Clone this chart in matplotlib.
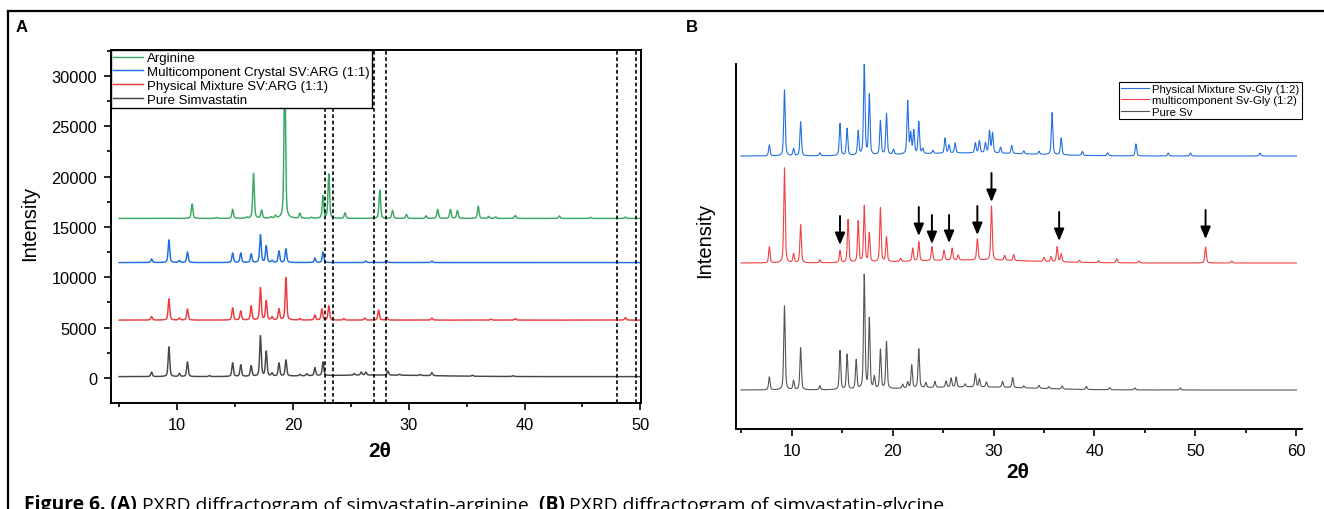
import numpy as np
import matplotlib
matplotlib.use('Agg')
import matplotlib.pyplot as plt
from matplotlib.lines import Line2D
from matplotlib.ticker import MultipleLocator

plt.rcParams['font.family'] = ['Liberation Sans', 'DejaVu Sans']

W, H = 1324, 510

# ---------------- panel A : simvastatin - arginine ----------------
A_LABELS = ['Arginine', 'Multicomponent Crystal SV:ARG (1:1)',
            'Physical Mixture SV:ARG (1:1)', 'Pure Simvastatin']
A_COLORS = ['#3aa860', '#1f6ee0', '#ec3a3d', '#474747']
A_BASELINES = [15840, 11460, 5750, 140]

# peak positions (2theta) and heights above baseline
arg_pos = [11.3, 13.4, 14.8, 16.0, 16.6, 17.3, 18.1, 18.5, 19.3, 20.6, 21.6, 22.6, 23.1,
           24.5, 27.5, 28.6, 29.8, 31.5, 32.5, 33.6, 34.2, 36.0, 36.9, 37.5, 39.2, 43.0,
           45.7, 48.7]
arg_int = [1450, 100, 900, 100, 4450, 800, 150, 250, 15000, 500, 100, 2200, 4400,
           550, 2800, 800, 400, 250, 900, 900, 800, 1200, 200, 150, 300, 250,
           100, 150]

mc_arg_pos = [7.8, 9.3, 10.2, 10.9, 14.8, 15.5, 16.4, 17.2, 17.7, 18.2, 18.8, 19.4,
              21.9, 22.6, 26.3, 27.0, 28.1, 32.0]
mc_arg_int = [350, 2250, 200, 1050, 950, 950, 850, 2750, 1650, 200, 1150, 1350,
              450, 1050, 150, 100, 200, 150]

pm_arg_pos = [7.8, 9.3, 10.2, 10.9, 14.8, 15.5, 16.4, 17.2, 17.7, 18.2, 18.8, 19.4,
              20.6, 21.9, 22.5, 23.1, 24.4, 26.2, 27.4, 28.1, 32.0, 37.1, 39.2, 48.7]
pm_arg_int = [350, 2100, 200, 1100, 1200, 900, 1400, 3200, 1900, 300, 1100, 4200,
              150, 500, 1100, 1400, 150, 200, 1000, 300, 200, 100, 150, 250]

sv_pos = [7.8, 9.3, 10.2, 10.9, 12.8, 14.8, 15.5, 16.4, 17.2, 17.7, 18.2, 18.8, 19.4,
          20.6, 21.2, 21.9, 22.6, 25.3, 25.9, 26.3, 28.2, 29.2, 31.0, 32.0, 35.5, 39.0]
sv_int = [450, 2950, 300, 1450, 100, 1350, 1150, 1050, 4000, 2450, 300, 1300, 1600,
          150, 200, 800, 1350, 150, 300, 300, 400, 100, 100, 300, 100, 80]
# broad amorphous hump under the simvastatin trace: centre, height, width
sv_hump = (27.0, 150, 12.0)

A_REF_LINES = [22.8, 23.45, 27.0, 28.0, 48.0, 49.6]

# ---------------- panel B : simvastatin - glycine (arbitrary units) ----------------
B_LABELS = ['Physical Mixture Sv-Gly (1:2)', 'multicomponent Sv-Gly (1:2)', 'Pure Sv']
B_COLORS = ['#2470e0', '#f04242', '#555555']
B_BASELINES = [234, 127, 0]

pm_gly_pos = [7.8, 9.3, 10.2, 10.9, 12.8, 14.8, 15.5, 16.6, 17.2, 17.7, 18.8, 19.4,
              20.1, 21.5, 21.8, 22.1, 22.6, 23.0, 24.0, 25.2, 25.6, 26.2, 28.2, 28.6,
              29.2, 29.6, 29.9, 30.7, 31.8, 33.0, 34.5, 35.8, 36.7, 38.8, 41.3, 44.1,
              47.3, 49.5, 56.4]
pm_gly_int = [11, 66, 7, 34, 3, 32, 27, 24, 91, 60, 34, 41,
              5, 53, 20, 23, 32, 5, 3, 15, 8, 10, 10, 12,
              10, 22, 20, 6, 8, 3, 3, 42, 17, 4, 3, 12,
              3, 3, 3]

mc_gly_pos = [7.8, 9.3, 10.2, 10.9, 12.8, 14.8, 15.6, 16.6, 17.2, 17.7, 18.8, 19.4,
              20.8, 22.0, 22.6, 23.9, 25.1, 25.9, 26.5, 28.4, 29.8, 31.1, 32.0, 35.0,
              35.7, 36.3, 36.7, 38.5, 40.4, 42.2, 44.4, 51.0, 53.6]
mc_gly_int = [16, 95, 9, 38, 3, 12, 43, 41, 56, 29, 54, 25,
              3, 13, 19, 14, 10, 12, 5, 21, 54, 5, 6, 4,
              5, 15, 8, 2, 2, 4, 2, 16, 2]

sv_b_pos = [7.8, 9.3, 10.2, 10.9, 12.8, 14.8, 15.5, 16.4, 17.2, 17.7, 18.2, 18.8, 19.4,
            21.0, 21.5, 21.9, 22.6, 23.3, 24.2, 25.3, 25.8, 26.3, 27.2, 28.2, 28.6,
            29.3, 30.9, 31.9, 33.0, 34.5, 35.5, 36.8, 39.2, 41.5, 44.0, 48.5]
sv_b_int = [13, 84, 9, 42, 4, 39, 35, 29, 114, 70, 12, 39, 47,
            4, 6, 23, 39, 5, 6, 6, 9, 10, 3, 13, 8,
            5, 6, 10, 2, 3, 2, 3, 3, 2, 2, 2]
b_hump = (28.0, 3, 14.0)

# arrows above the multicomponent trace: 2theta, tail and head heights
ARROW_POS = [14.8, 22.6, 23.9, 25.6, 28.4, 29.8, 36.5, 51.0]
ARROW_TAIL = [174, 183, 175, 175, 184, 217, 178, 180]
ARROW_HEAD = [145, 154, 146, 147, 155, 188, 149, 151]

CAPTION = [('Figure 6. (A)', 'bold'), (' PXRD diffractogram of simvastatin-arginine.', 'normal'),
           (' (B)', 'bold'), (' PXRD diffractogram of simvastatin-glycine.', 'normal')]


def profile(x, centers, heights, fwhm, hump=None):
    y = np.zeros_like(x)
    for c, h in zip(centers, heights):
        d = (x - c) / fwhm
        y += h * (0.5 * np.exp(-4 * np.log(2) * d ** 2) + 0.5 / (1 + 4 * d ** 2))
    if hump is not None:
        c, h, w = hump
        y += h * np.exp(-4 * np.log(2) * ((x - c) / w) ** 2)
    return y


def px_axes(fig, left, top, right, bottom):
    return fig.add_axes([left / W, 1 - bottom / H, (right - left) / W, (bottom - top) / H])


def style_ticks(ax, size):
    ax.tick_params(which='major', direction='out', length=5, width=1.2, labelsize=size, pad=5)
    ax.tick_params(which='minor', direction='out', length=3, width=1.2)
    for s in ax.spines.values():
        s.set_linewidth(1.4)


def plot_panel_a(fig):
    ax = px_axes(fig, 111, 51, 641, 404)
    x = np.arange(5, 50.0001, 0.01)
    series = [(arg_pos, arg_int, None), (mc_arg_pos, mc_arg_int, None),
              (pm_arg_pos, pm_arg_int, None), (sv_pos, sv_int, sv_hump)]
    for (pos, inten, hump), base, color, label in zip(series, A_BASELINES, A_COLORS, A_LABELS):
        ax.plot(x, base + profile(x, pos, inten, 0.16, hump), color=color, lw=1.05, label=label)
    for v in A_REF_LINES:
        ax.axvline(v, color='black', lw=1.2, linestyle=(0, (2.2, 1.6)))
    ax.set_xlim(4.3, 50.05)
    ax.set_ylim(-2480, 32560)
    ax.xaxis.set_major_locator(MultipleLocator(10))
    ax.xaxis.set_minor_locator(MultipleLocator(5))
    ax.yaxis.set_major_locator(MultipleLocator(5000))
    ax.yaxis.set_minor_locator(MultipleLocator(2500))
    style_ticks(ax, 11.8)
    leg = ax.legend(loc='upper left', bbox_to_anchor=(0, 1), borderaxespad=0, fontsize=9.5,
                    handlelength=2.3, handletextpad=0.3, borderpad=0.15, labelspacing=0.12,
                    fancybox=False, framealpha=1, edgecolor='black')
    leg.get_frame().set_linewidth(1.0)
    leg.set_zorder(10)
    fig.text(30 / W, 1 - 223 / H, 'Intensity', rotation=90, ha='center', va='center', fontsize=14.5)
    fig.text(380 / W, 1 - 452 / H, '2θ', ha='center', va='center', fontsize=15, fontweight='bold')
    return ax


def plot_panel_b(fig):
    ax = px_axes(fig, 736, 65, 1301.5, 430)
    x = np.arange(5, 60.0001, 0.01)
    series = [(pm_gly_pos, pm_gly_int), (mc_gly_pos, mc_gly_int), (sv_b_pos, sv_b_int)]
    for (pos, inten), base, color, label in zip(series, B_BASELINES, B_COLORS, B_LABELS):
        ax.plot(x, base + profile(x, pos, inten, 0.17, b_hump), color=color, lw=0.8, label=label)
    for p, t, h in zip(ARROW_POS, ARROW_TAIL, ARROW_HEAD):
        ax.annotate('', xy=(p, h), xytext=(p, t),
                    arrowprops=dict(arrowstyle='-|>,head_length=0.6,head_width=0.25',
                                    color='black', lw=1.4, shrinkA=0, shrinkB=0,
                                    mutation_scale=12))
    ax.set_xlim(4.5, 60.5)
    ax.set_ylim(-39, 326)
    ax.spines['top'].set_visible(False)
    ax.spines['right'].set_visible(False)
    ax.set_yticks([])
    ax.xaxis.set_major_locator(MultipleLocator(10))
    ax.xaxis.set_minor_locator(MultipleLocator(5))
    style_ticks(ax, 12)
    leg = ax.legend(loc='upper right', bbox_to_anchor=(1.0, 1 - 18 / 365), borderaxespad=0,
                    fontsize=8.2, handlelength=2.4, handletextpad=0.3, borderpad=0.2,
                    labelspacing=0.1, fancybox=False, framealpha=1, edgecolor='black')
    leg.get_frame().set_linewidth(0.8)
    fig.text(705 / W, 1 - 240 / H, 'Intensity', rotation=90, ha='center', va='center', fontsize=14.5)
    fig.text(1018 / W, 1 - 472 / H, '2θ', ha='center', va='center', fontsize=15, fontweight='bold')


def add_frame_and_caption(fig, ax):
    fig.add_artist(Line2D([8 / W, 1], [1 - 12 / H, 1 - 12 / H], color='black', lw=1.6))
    fig.add_artist(Line2D([8 / W, 8 / W], [0, 1 - 12 / H], color='black', lw=1.6))
    fig.text(22 / W, 1 - 27 / H, 'A', ha='center', va='center', fontsize=12, fontweight='bold')
    fig.text(692 / W, 1 - 27 / H, 'B', ha='center', va='center', fontsize=12, fontweight='bold')

    # caption runs off the bottom edge, as in the source figure
    prev = None
    for txt, weight in CAPTION:
        kw = dict(fontsize=13.9, fontweight=weight, family=['Open Sans', 'DejaVu Sans'],
                  va='bottom', ha='left')
        if prev is None:
            prev = fig.text(24 / W, -5 / H, txt, **kw)
        else:
            prev = ax.annotate(txt, xy=(1, 0), xycoords=prev, annotation_clip=False, **kw)


fig = plt.figure(figsize=(W / 100, H / 100), dpi=100)
ax_a = plot_panel_a(fig)
plot_panel_b(fig)
add_frame_and_caption(fig, ax_a)
fig.savefig('out.png', dpi=100)
